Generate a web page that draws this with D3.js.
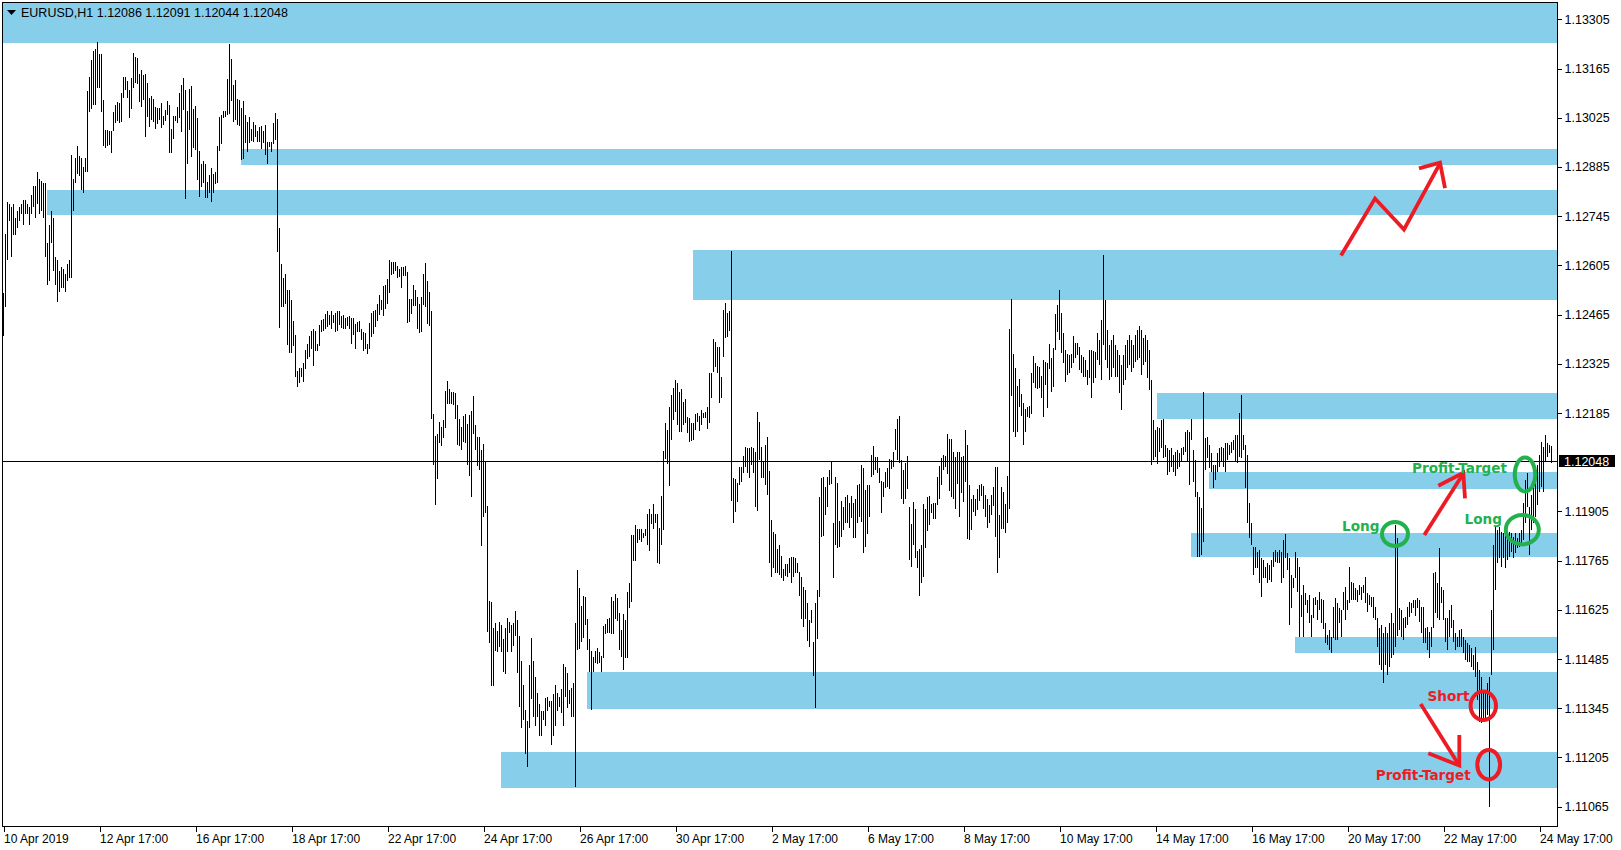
<!DOCTYPE html>
<html><head><meta charset="utf-8">
<script src="https://cdn.jsdelivr.net/npm/d3@7"></script>
<style>
html,body{margin:0;padding:0;background:#fff;}
svg{display:block;}
</style></head><body>
<svg id="c" width="1621" height="850"></svg>
<script>
// ---------------- DATA ----------------
const titleText = "EURUSD,H1  1.12086 1.12091 1.12044 1.12048";
const basePrice = 1.1100;   // prices below are in pips above this base
const pip = 0.0001;
const currentPrice = 1.12048;

const highPips = [
152.6,169.4,178.5,178,177,178,174,176,177,178,
179,179,178,177,180.5,183,183,187,185,184.5,
184,184,167,172,176,174,163,162,159,160,
159.5,158,161,162,192,185,191,194.5,191.6,191,
188.5,191,210,214,219,221.5,222,224,220.6,220.6,
207.5,199,199,198.7,198.7,204,206,207,206.7,209.5,
214,214,213,210.4,213.8,221,219.8,219.5,215,216,
214.7,215,212.4,208,208.7,207.8,205.6,205.3,205.3,206.7,
203,204.7,207.3,206,199.3,203,203,205.6,209.5,211.8,
213.8,210.4,204.4,210.7,211.5,205,205.8,202.4,193,189.3,
190.2,189.3,184.2,186.2,188.2,186.5,187,194.5,202.7,203.3,
204.4,204.4,213.5,223.5,219.2,211.8,213.2,207.8,207.5,205.3,
207.3,203.3,201.3,202.7,199.3,201.3,200.4,198.7,199.9,200.2,
198.7,200.4,195.6,195.6,195.6,201,203.9,202.1,171.1,160.9,
156.9,158,153.5,153.5,150.6,144.7,140.7,130.5,131.4,131.4,
132.7,136.4,138.1,140.4,141.8,142.4,141.8,138.2,143.5,145,
145.2,146.7,147.5,146.4,147.5,146.4,147,147.5,147.5,146.1,
146.4,145.4,145.8,146.1,145.5,145.4,143.8,144.4,144.7,142.4,
141.5,141.3,138.2,144.1,147,147.5,147.9,149.6,152.1,150.6,
154.6,155,156.7,162.1,161.5,161.5,161.5,160.4,159.6,159.9,
160.1,160.4,158.6,150.9,150.9,154.9,153.5,151.5,149.5,151.5,
158,161.2,156,152.9,147.5,118.2,112,112.4,115.9,114.4,
116.5,124.8,127.6,125.3,124.5,124.5,124.2,120.8,116.9,114.4,
117.7,118.2,115.4,117.9,119.2,123.3,115.1,111.7,111.7,108,
109.7,104.6,92,65,64.6,57.2,58.8,56.5,59,58.2,
54.2,57.2,60.2,59,58.2,58.8,62.2,59.6,55.1,47.9,
41.2,34.1,30.9,46.8,54.5,47.9,43.3,38.8,35.8,33.7,
33.8,37.4,37.7,36.6,36.6,38.6,41.2,38.8,37.7,40,
47.1,46.2,44.5,39.7,40.3,41.7,58.8,73.8,68.7,63.6,
66.4,66.2,59.9,54.2,50.8,49.1,50.8,51.6,50.4,49.4,
57.9,58.5,60,60.2,66.2,65.1,67,65.9,61.6,56.8,
61.3,59.6,67.6,70.1,83.9,83.9,86.6,85.6,85.6,85.6,
84.4,85.6,89.8,91.3,89.8,92.7,89.8,89.8,85.9,94.9,
107.7,115.7,113.7,120.2,123.6,125.6,127.9,127,124.5,125.3,
121.7,122.5,117.4,117.1,115.7,115.7,118.2,118.6,117.6,119.4,
118.6,118.9,120.3,129.9,129.9,139.6,138.7,137.4,137.4,128.8,
147.8,149.8,147,147.5,164.7,100,99.7,98.6,103.2,103.2,
106.3,108.9,108.5,108.5,108.9,108.5,107.5,118.8,116,108.9,
104.6,109.4,111.7,102.1,88.1,84.6,84.1,79.8,81,77.8,
74.1,75.5,75.5,77.2,77.5,77.6,77.2,75.9,73.4,71.8,
69.1,68.1,64.5,59.6,62.5,53.4,64.5,68.1,94.7,100,
100.4,97.5,100.4,102.3,104.9,87.2,100.3,98.7,87.8,93.5,
91.8,94.7,95.2,93,94.9,92.9,94,98,98.3,103.7,
102.9,96.6,98,98,106.6,109.1,106.1,106.1,102.9,99.2,
98.9,101.8,102.9,105.4,105.1,107.5,114,116.8,117.6,105.1,
102.3,104.4,106.3,91.8,87,93.3,91.2,79.3,79.8,81,
92.6,91.2,94.7,94.9,92.6,92.9,93,100.4,103.4,105.7,
106.6,106.3,112.5,111.1,111.1,107.5,106,107.5,107.5,106.1,
106.3,113.7,109.4,98,94,95.2,94,96.9,98,98.3,
97.7,95.2,94,92.3,95.2,97.5,103.1,103.1,89.5,97.5,
96.1,92.6,100.6,142.4,150.9,135.3,131.3,126.2,128.2,123.9,
121.3,119.6,120.3,120.5,129.9,134.7,132.7,131.9,131.7,129,
133.6,133.1,132.8,138.1,134.1,137,146.7,149.2,153.5,147,
141.3,136.4,135.3,135,135.3,140.4,138.4,138.4,137.4,135,
134.4,133.6,130.7,136.4,136.4,136.2,135.9,141.3,139.3,145,
163.5,150.6,142.1,137.8,139.3,140.7,137.8,136.4,135,132.2,
135,137.8,139.3,140.7,139.3,137.8,140.7,142.1,143.3,142.1,
139.8,140.7,139.3,136.4,127.9,116.5,113.7,114.5,114.2,116.5,
116.8,109.4,108.5,108,108.5,106.6,107.4,108,107.1,108.5,
108.8,113.1,113.7,113.1,116.8,108,105.1,96,94.6,91.5,
124.5,111.4,111.7,109.4,107.1,103.7,103.7,107.1,108.5,108.8,
108.5,110,110,109.4,110.3,110.8,112.2,112.2,118.5,123.6,
112.2,109.4,106.6,92.9,87.2,80.4,80.4,79,79.5,77.2,
76.7,74.7,75.8,75.3,76.7,79,79.5,79,79.5,79,
82.4,84.1,78.7,77.2,72.4,71.6,79,77.2,74.7,66.7,
69.6,67.3,65.3,66.7,61,65.9,66.2,65.3,67.6,65.6,
65.3,58.8,55.3,56.8,54.8,63.3,65.9,64.4,63,62.5,
67.6,69,65.3,74.7,70.4,70.1,68.7,68.1,69.6,69,
69.6,71.8,67.3,66.7,66.2,66.2,63.3,60.2,57.3,58.2,
55.9,57.6,55.9,58.8,61.6,58.8,86.6,83,63,62.5,
60.2,60.5,63.3,64.7,64.4,65.3,65.3,65.9,65.3,63.3,
63.3,57.3,57.6,56.2,57.6,73,73.3,70.1,80.1,69,
68.1,60.2,60.2,62.5,63.9,59.6,55.9,54.8,56.8,57.1,
54.8,53.9,53.1,52.5,51.6,49.7,51.9,47.7,45.4,43.4,
39.7,38.8,41.7,43.4,62.5,81,86,85.2,86.1,84.6,
84.4,84.4,83.2,84.6,84.4,83.2,84.4,83,84.4,85.2,
92.9,99.4,101.4,91.8,95.2,100,102.3,103.7,106.6,110.3,
108.8,112.2,110,109.4,109.1];

const lowPips = [
140.4,148.7,162,173,163,169,169,171,173,175,
172,175,175,172,175,177,174,178,175,176,
174,163,155,156,167,159,155,150,153,154,
154,153,156,157,157,176,184,186.5,186,182,
181,187,187,204,205,206,206,211,211,204,
194.5,194,194.5,194.7,192.5,198.7,201,201.6,201,201.3,
208,210.4,208,202.4,205,211,212.4,212,207,205.6,
207.5,197,202.7,200,201.9,201.3,199.3,200.7,201.9,199.6,
200.4,201.6,203.3,192.5,192.5,196.5,201.6,201,202.4,198.4,
204.7,179.4,189.3,199,191.3,193.9,193.3,184.8,180,182.8,
184,179.7,179.7,181,178.5,181,183.7,184,193,195,
202.4,202.7,203.3,203.6,207.3,201.3,201.9,200.4,200.2,190.5,
190.8,195.3,192.8,195.3,195.9,195.6,197,195.6,195.6,193.6,
195.3,191.9,189.3,194.2,192.8,195,196.2,164.3,142.7,148.7,
148.7,149.6,137.8,135.7,135.7,137.6,128.6,125.9,126.9,128.6,
127.3,131,134,134.4,136.7,131.9,136.1,136.1,137.6,141.5,
141.8,142.5,143,143.5,142.5,144.1,141.5,141.8,143.5,142.8,
142.4,142.5,143.3,142.5,138,140.8,136.7,141.5,141.5,139.3,
136.1,136.7,135.4,136.7,140.1,141.1,143,144.7,146.4,147.9,
146.2,148.2,149.6,152.5,157.9,158,158.9,156.9,157.3,154.2,
157.6,157.6,144.1,144.4,146.7,148.9,148.9,142.5,141.3,141.5,
149.2,148.7,143.8,143.3,116.8,103.7,92.3,99.8,110.1,109.1,
111.4,114.1,121.2,121.1,121.1,120.8,116.8,109.4,109,108,
110.3,110,103.7,100.7,94.6,112.4,108,103.5,102.4,80.7,
89,90.1,56.2,53.1,40.8,40.9,50.9,50.5,51.9,50.4,
44.8,44.2,50.5,55.9,50.5,52.2,55.1,44.5,34.9,29,
31.2,21.6,17.8,29,37.1,32,29.5,32,26.7,26.7,
31.2,29.5,33.8,34.9,24,26.7,29.5,33.8,34.9,33.2,
29.5,37.7,34.6,35.7,32,32,12,51.1,51.4,53.4,
54.5,58.2,51.1,44.8,34,44.8,47.4,47.1,47.4,44.8,
48.8,55.5,55.9,55.9,55.5,55.5,60,59.3,51.1,49.1,
45.4,48.8,48.8,63,64.6,76.5,76.4,81.5,82.4,81.9,
82.9,83.6,81,79.3,86.9,85.5,87.2,75.8,75.5,81,
85.2,105.5,104,97.7,110.8,116.5,118.8,115.1,113.1,113.2,
115.1,115.7,112.8,110.3,110.6,110.8,113.7,116,113.5,115.1,
117.1,117.1,114,115.7,122.8,130.3,131.7,129.9,121.4,122.8,
134.5,139.8,140.1,141.9,93.6,87.2,90.4,93.3,98,99,
101.4,103.2,101.4,100,103.7,101.4,91.8,90.7,105.1,100,
100,98,95.2,75.8,71.8,74.4,73,73,72.4,71.6,
70.8,72.1,71.8,73,70.2,71.9,73,73,66.4,59.9,
57.7,59.9,53.7,52,58.8,43.7,34.7,54.2,66.2,83.3,
83.5,89.5,91.8,98,98.3,71.6,81,80.1,80.4,83.2,
85.2,87.3,87.2,85.8,88.6,82.9,82.9,87.2,88.9,87.6,
78.8,80.5,84.1,88.9,100.4,100.9,102.3,101.4,98.7,90.1,
94.6,97.2,97.5,96.9,102.6,103.2,108,105.1,104.3,94,
92.6,94,96.9,76.7,74.7,80.9,77.2,74.5,66.5,70.2,
71.8,80.1,85,86.6,90.1,88.3,88.3,92.3,94,98,
102.3,103.1,101.1,96.4,94.7,94,91.2,98.3,88.9,95.7,
93.3,99,82.7,82.4,85.2,90.4,89.2,90.9,93.6,94.9,
91.2,88.9,85.8,87.3,89.5,92,83.2,73.1,77.3,85.5,
85.5,84.4,87.2,91.2,123.3,113.2,111.7,113.2,120.3,117.6,
109.4,113.2,117.4,117.1,118.2,127,125.6,125.3,125.6,122.8,
117.4,126.5,119.9,131,124.6,125.9,136.4,141.6,139.3,135.7,
132.8,127.4,129.3,129.9,131.3,132.8,134.1,135,130.7,129.9,
128.7,128.8,126.5,128.5,122.8,127,128.5,133.6,132.2,127.9,
137.8,133.6,131.3,127.9,128.7,131.3,128.7,128.7,124.2,119.4,
126.5,127.9,131.3,132.2,130.2,131.3,133,133.6,134.1,129.3,
132.2,133,128.5,125,103.7,105.1,106,104,107.4,108.5,
105.7,106,100.9,101.7,103.1,101.7,100.6,102.6,103.1,104.6,
106.6,107.4,104.6,98,110.8,98.9,94.6,77.5,77.5,78.1,
81.8,102.3,105.7,102.9,101.7,97.2,99.4,101.7,103.1,104.6,
103.1,101.7,105.1,106.6,107.1,108,104.6,104.3,106,105.7,
108,97.2,87.2,82.9,81,72.4,74.4,74.4,70.1,66.2,
71.6,71.6,70.1,71,70.4,74.7,76.1,75.8,75.8,70.1,
71.6,77.2,73.8,58.2,63,68.7,71.6,67.6,54.8,60.5,
54.8,63.9,61.6,58.8,54.8,60.2,63.9,59.6,62.5,58.8,
57.1,53.1,52.5,51.1,50.2,54.5,53.9,53.9,58.8,54.8,
62.5,59.6,62.5,64.5,65.3,65.3,65.3,64.7,66.7,65.3,
67.3,64.5,61.9,63.9,63.3,60.2,59.6,51.9,46.8,45.4,
41.7,46.8,44,46.2,48.8,49.7,51.9,55,56.8,54.8,
53.9,57.3,58.2,60.5,61.6,63,60.8,63,59,55.9,
53.1,53.1,51.1,48.8,51.9,57.3,61.6,60.2,59.6,64.5,
59.6,53.4,51.1,54.8,57.3,53.4,51.1,51.9,51.9,51.9,
50.2,48.2,47.7,47.7,46.2,45.4,43.4,36.9,30.6,30.3,
31.2,31.7,32.6,6.4,44,51.1,68.1,75.8,77.2,74.7,
77.2,74.4,76.7,77.5,79,77.2,78.7,80.1,80.4,81.5,
82.4,87.2,91.8,78.1,85.2,87.2,88.9,92.3,96,97.5,
96,104.6,106,107.1,104.4];

// time axis: bar index of each label and its text
const xTickIndex = [0,48,96,144,192,240,288,336,384,432,480,528,576,624,672,720,768];
const xTickLabels = ["10 Apr 2019","12 Apr 17:00","16 Apr 17:00","18 Apr 17:00","22 Apr 17:00",
  "24 Apr 17:00","26 Apr 17:00","30 Apr 17:00","2 May 17:00","6 May 17:00","8 May 17:00",
  "10 May 17:00","14 May 17:00","16 May 17:00","20 May 17:00","22 May 17:00","24 May 17:00"];
const yTickValues = [1.13305,1.13165,1.13025,1.12885,1.12745,1.12605,1.12465,1.12325,1.12185,
  1.11905,1.11765,1.11625,1.11485,1.11345,1.11205,1.11065];

// supply / demand zones: starting bar, upper price, lower price
const zoneStart  = [-2, 119, 22, 345, 577, 603, 594, 646, 292, 249];
const zoneTop    = [1.1345, 1.12936, 1.12819, 1.12649, 1.12243, 1.12017, 1.11844, 1.11549, 1.11448, 1.11222];
const zoneBottom = [1.13238, 1.12891, 1.12748, 1.12506, 1.12168, 1.11970, 1.11776, 1.11501, 1.11342, 1.11119];

// hand-drawn annotations, anchored in (bar index, price)
const greenRings = [[695.75,1.11841],[759.4,1.11853],[760.75,1.12010]];
const redRings   = [[739.9,1.11352],[742.6,1.111845]];
const noteTexts  = ["Profit-Target","Long","Long","Short","Profit-Target"];
const noteAnchor = [[704.25,1.12013],[669.3,1.11850],[730.5,1.11868],[712,1.11366],[686.1,1.11141]];
const arrowLines = [
  [[668.75,1.12633],[685.75,1.12795],[700.25,1.12707],[718.25,1.12895]],
  [[707.75,1.12881],[718.25,1.12897],[720.75,1.12825]],
  [[710.4,1.11838],[729.9,1.12013]],
  [[717.4,1.11978],[729.9,1.12015],[730.75,1.11942]],
  [[708.6,1.11357],[727.4,1.111865]],
  [[712.4,1.11217],[727.9,1.11182],[727.9,1.11269]]
];

// ---------------- STYLE / LAYOUT ----------------
const W = 1621, H = 850;
const plot = {left: 2, top: 2, right: 1557, bottom: 826};
const zoneColor = "#87CEEB";
const green = "#22B14C", red = "#ED1C24";
const ringSizeGreen = [[13,12],[16.5,14.7],[10.3,17]];
const ringSizeRed = [[12.7,14.2],[11.4,14.7]];
const noteColors = [green, green, green, red, red];
const axisFont = "'Liberation Sans', Arial, sans-serif";
const noteFont = "'DejaVu Sans', sans-serif";

const svg = d3.select("#c");
const x = d3.scaleLinear().domain([0, 768]).range([3.5, 1539.5]);
const y = d3.scaleLinear().domain([1.11065, 1.13305]).range([806.7, 19.3]);
const toPrice = v => basePrice + v * pip;

svg.append("rect").attr("width", W).attr("height", H).attr("fill", "#fff");
svg.append("defs").append("clipPath").attr("id", "clip")
  .append("rect").attr("x", plot.left).attr("y", plot.top)
  .attr("width", plot.right - plot.left).attr("height", plot.bottom - plot.top);

const gPlot = svg.append("g").attr("clip-path", "url(#clip)");

// zones
const zones = zoneStart.map((s, k) => ({s, t: zoneTop[k], b: zoneBottom[k]}));
gPlot.selectAll("rect.zone").data(zones).join("rect").attr("class", "zone")
  .attr("x", d => Math.round(x(d.s) - 0.5))
  .attr("width", d => plot.right - Math.round(x(d.s) - 0.5))
  .attr("y", d => Math.round(y(d.t)))
  .attr("height", d => Math.round(y(d.b)) - Math.round(y(d.t)))
  .attr("fill", zoneColor).attr("shape-rendering", "crispEdges");

// current price line
const cpY = Math.round(y(currentPrice)) + 0.5;
gPlot.append("line").attr("x1", plot.left).attr("x2", plot.right)
  .attr("y1", cpY).attr("y2", cpY).attr("stroke", "#000").attr("stroke-width", 1)
  .attr("shape-rendering", "crispEdges");

// bars (high-low)
const n = Math.min(highPips.length, lowPips.length);
const bars = d3.range(n).map(i => ({i, h: toPrice(highPips[i]), l: toPrice(lowPips[i])}));
gPlot.selectAll("line.bar").data(bars).join("line").attr("class", "bar")
  .attr("x1", d => x(d.i)).attr("x2", d => x(d.i))
  .attr("y1", d => Math.round(y(d.h)))
  .attr("y2", d => Math.max(Math.round(y(d.l)), Math.round(y(d.h)) + 1))
  .attr("stroke", "#000").attr("stroke-width", 1).attr("shape-rendering", "crispEdges");

// frame
svg.append("rect").attr("x", plot.left + 0.5).attr("y", plot.top + 0.5)
  .attr("width", plot.right - plot.left).attr("height", plot.bottom - plot.top)
  .attr("fill", "none").attr("stroke", "#000").attr("stroke-width", 1)
  .attr("shape-rendering", "crispEdges");

// y axis
const yAxis = d3.axisRight(y).tickValues(yTickValues).tickFormat(d3.format(".5f"))
  .tickSize(4).tickPadding(3);
const gy = svg.append("g").attr("transform", `translate(${plot.right + 0.5},0)`).call(yAxis);
gy.select(".domain").remove();
gy.selectAll("line").attr("stroke", "#000").attr("shape-rendering", "crispEdges");
gy.selectAll("text").attr("font-family", axisFont).attr("font-size", 12.5).attr("fill", "#000");

// x axis
const xAxis = d3.axisBottom(x).tickValues(xTickIndex).tickFormat((d, k) => xTickLabels[k])
  .tickSize(5).tickPadding(3);
const gx = svg.append("g").attr("transform", `translate(0,${plot.bottom + 0.5})`).call(xAxis);
gx.select(".domain").remove();
gx.selectAll("line").attr("stroke", "#000").attr("shape-rendering", "crispEdges");
gx.selectAll("text").attr("font-family", axisFont).attr("font-size", 12).attr("fill", "#000")
  .attr("text-anchor", "start").attr("dx", 0);

// current price tag
const tag = svg.append("g");
tag.append("rect").attr("x", plot.right + 2).attr("y", Math.round(y(currentPrice)) - 6)
  .attr("width", 56).attr("height", 12).attr("fill", "#000");
tag.append("text").attr("x", plot.right + 7).attr("y", y(currentPrice)).attr("dy", "0.36em")
  .attr("font-family", axisFont).attr("font-size", 12.5).attr("fill", "#fff")
  .text(d3.format(".5f")(currentPrice));

// title
svg.append("path").attr("d", "M7,10H16L11.5,15Z").attr("fill", "#000");
svg.append("text").attr("x", 21).attr("y", 17).attr("font-family", axisFont)
  .attr("font-size", 12.5).attr("fill", "#000").text(titleText);

// annotations
const gA = svg.append("g");
gA.selectAll("ellipse.g").data(greenRings).join("ellipse")
  .attr("cx", d => x(d[0])).attr("cy", d => y(d[1]))
  .attr("rx", (d, k) => ringSizeGreen[k][0]).attr("ry", (d, k) => ringSizeGreen[k][1])
  .attr("fill", "none").attr("stroke", green).attr("stroke-width", 4);
gA.selectAll("ellipse.r").data(redRings).join("ellipse")
  .attr("cx", d => x(d[0])).attr("cy", d => y(d[1]))
  .attr("rx", (d, k) => ringSizeRed[k][0]).attr("ry", (d, k) => ringSizeRed[k][1])
  .attr("fill", "none").attr("stroke", red).attr("stroke-width", 4);
const line = d3.line().x(d => x(d[0])).y(d => y(d[1]));
gA.selectAll("path.arrow").data(arrowLines).join("path")
  .attr("d", line).attr("fill", "none").attr("stroke", red).attr("stroke-width", 3.8)
  .attr("stroke-linejoin", "miter").attr("stroke-linecap", "butt");
gA.selectAll("text.note").data(noteTexts).join("text")
  .attr("x", (d, k) => x(noteAnchor[k][0])).attr("y", (d, k) => y(noteAnchor[k][1]))
  .attr("font-family", noteFont).attr("font-weight", "bold").attr("font-size", 13.6)
  .attr("fill", (d, k) => noteColors[k]).text(d => d);
</script>
</body></html>
